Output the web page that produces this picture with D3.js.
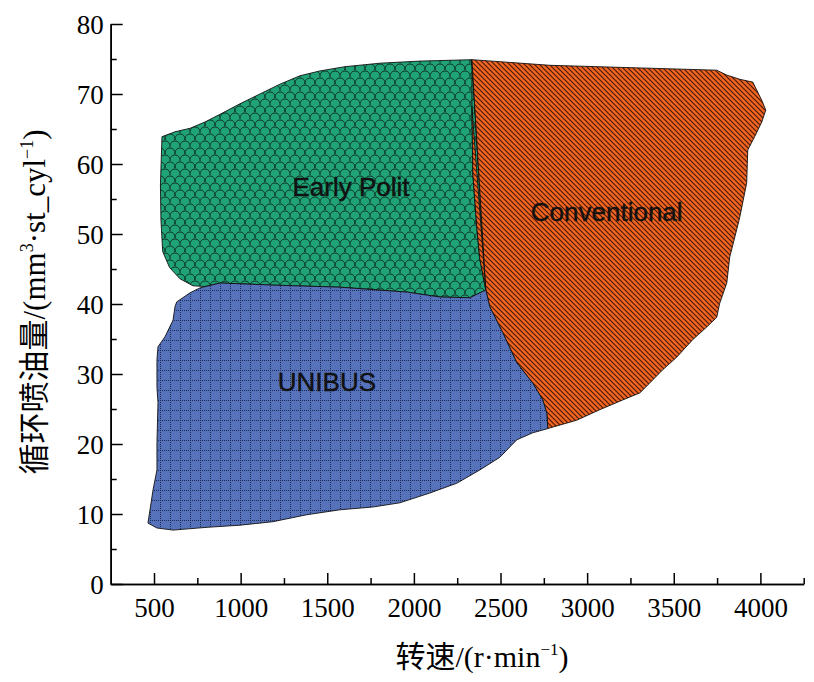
<!DOCTYPE html>
<html><head><meta charset="utf-8">
<script src="https://cdn.jsdelivr.net/npm/d3@7/dist/d3.min.js"></script>
<style>body{margin:0;background:#fff}svg{display:block}</style>
</head><body>
<svg id="c" width="814" height="682"></svg>
<script>
// ---- data (x: r/min, y: mm3/st_cyl) ----
const xTicks = [500, 1000, 1500, 2000, 2500, 3000, 3500, 4000];
const xMinor = [750, 1250, 1750, 2250, 2750, 3250, 3750, 4250];
const yTicks = [0, 10, 20, 30, 40, 50, 60, 70, 80];
const yMinor = [5, 15, 25, 35, 45, 55, 65, 75];

// shared boundaries
const greenOrangeEdge = [[2335,74.9],[2335,68.1],[2340,58.7],[2363,51.0],[2380,46.5],[2415,42.0]];
const blueOrangeEdge  = [[2415,42.0],[2438,39.6],[2513,35.9],[2594,31.6],[2686,28.7],[2744,26.3],[2767,24.4],[2773,22.2]];
const greenBlueEdge   = [[2415,42.0],[2323,40.9],[2150,41.0],[1960,41.7],[1573,42.4],[1186,42.7],[881,43.0]];

// outer edges
const greenOuter = [[881,43.0],[794,42.5],[725,42.6],[650,43.6],[590,45.2],[550,47.5],[540,52],[537,57],[546,63.9],[621,64.6],[708,65.1],[794,66.0],[881,67.1],[996,68.6],[1111,70.0],[1227,71.4],[1342,72.6],[1458,73.3],[1602,73.9],[1804,74.4],[2035,74.7],[2335,74.9]];
const orangeOuter = [[2335,74.9],[2785,74.1],[3748,73.4],[3806,72.7],[3881,72.1],[3956,71.7],[4008,69.1],[4031,67.7],[4008,66.0],[3967,63.9],[3927,62.0],[3921,57.3],[3881,52.4],[3863,50.6],[3823,46.7],[3806,43.0],[3765,40.1],[3748,38.1],[3690,36.7],[3609,34.9],[3517,32.4],[3436,30.6],[3361,28.7],[3304,27.3],[3206,26.3],[3073,24.9],[2940,23.4],[2785,22.3],[2773,22.2]];
const blueOuter = [[2773,22.2],[2686,21.6],[2594,20.6],[2496,18.1],[2381,16.3],[2248,14.4],[2092,13.0],[1919,11.6],[1763,11.0],[1573,10.6],[1383,9.9],[1186,8.9],[996,8.4],[806,8.1],[610,7.7],[517,8.0],[465,8.7],[477,10.6],[494,13.4],[517,16.3],[517,20.1],[523,25.9],[517,28.1],[517,32.0],[523,33.9],[563,35.3],[610,37.7],[621,39.6],[631,40.3],[708,41.6],[765,42.3],[881,43.0]];

const regions = ["Early Polit", "Conventional", "UNIBUS"];
const labelPos = [[1637, 56.7], [3113, 53.1], [1498, 28.9]];

// ---- scales ----
const svg = d3.select("#c");
const x = d3.scaleLinear().domain([250, 4250]).range([110.7, 803.7]);
const y = d3.scaleLinear().domain([0, 80]).range([584, 24]);

// ---- patterns ----
const defs = svg.append("defs");
const pg = defs.append("pattern").attr("id","pGreen").attr("patternUnits","userSpaceOnUse").attr("width",10).attr("height",14);
pg.append("rect").attr("width",10).attr("height",14).attr("fill","#1fa377");
const scale = "M0,7 C0,3 2,1 5,1 C8,1 10,3 10,7";
[[0,0],[5,7],[-5,7],[0,14],[5,-7],[-5,-7]].forEach(([dx,dy])=>{
  pg.append("path").attr("d",scale).attr("transform",`translate(${dx},${dy})`)
    .attr("fill","none").attr("stroke","#0c2e20").attr("stroke-width",1);
});
const po = defs.append("pattern").attr("id","pOrange").attr("patternUnits","userSpaceOnUse").attr("width",5).attr("height",5);
po.append("rect").attr("width",5).attr("height",5).attr("fill","#f26522");
po.append("path").attr("d","M-1,-1 L6,6 M-1,4 L1,6 M4,-1 L6,1").attr("stroke","#4a1a08").attr("stroke-width",1.2);
const pb = defs.append("pattern").attr("id","pBlue").attr("patternUnits","userSpaceOnUse").attr("width",10).attr("height",10);
pb.append("rect").attr("width",10).attr("height",10).attr("fill","#5672ba");
pb.append("path").attr("d","M0,0.5 H10 M0.5,0 V10").attr("stroke","#1c2a55").attr("stroke-width",1).attr("stroke-dasharray","1,1");

// ---- regions ----
const line = d3.line().x(d=>x(d[0])).y(d=>y(d[1]));
const greenPoly = greenOrangeEdge.slice().reverse().concat(greenBlueEdge, greenOuter);
const orangePoly = orangeOuter.concat(blueOrangeEdge.slice().reverse(), greenOrangeEdge.slice(1));
const bluePoly = blueOrangeEdge.concat(blueOuter, greenBlueEdge.slice().reverse());
const polys = [greenPoly, orangePoly, bluePoly];
const fills = ["url(#pGreen)", "url(#pOrange)", "url(#pBlue)"];
svg.append("g").selectAll("path").data(polys).join("path")
  .attr("d", d => line(d) + "Z")
  .attr("fill", (d,i) => fills[i])
  .attr("stroke", "#111")
  .attr("stroke-width", 0.9)
  .attr("stroke-linejoin", "round");

svg.append("g").selectAll("text").data(regions).join("text")
  .attr("x", (d,i) => x(labelPos[i][0]))
  .attr("y", (d,i) => y(labelPos[i][1]))
  .attr("text-anchor","middle").attr("dominant-baseline","central")
  .attr("font-family","Liberation Sans, Arial, sans-serif").attr("font-size",26)
  .attr("fill","#111").attr("stroke","#111").attr("stroke-width",0.4)
  .text(d => d);

// ---- axes ----
const fontSerif = "Liberation Serif, Times New Roman, serif";
const gx = svg.append("g").attr("transform","translate(0,584)");
gx.call(d3.axisBottom(x).tickValues(xTicks).tickSize(-11).tickPadding(14).tickSizeOuter(0).tickFormat(d3.format("d")));
gx.append("g").call(d3.axisBottom(x).tickValues(xMinor).tickSize(-6).tickSizeOuter(0).tickFormat(""));
const gy = svg.append("g").attr("transform","translate(110.7,0)");
gy.call(d3.axisLeft(y).tickValues(yTicks).tickSize(-12).tickPadding(7).tickSizeOuter(0));
gy.append("g").call(d3.axisLeft(y).tickValues(yMinor).tickSize(-6).tickSizeOuter(0).tickFormat(""));
svg.selectAll(".domain").attr("stroke","#000").attr("stroke-width",1.6);
svg.selectAll(".tick line").attr("stroke","#000").attr("stroke-width",1.5);
svg.selectAll(".tick text").attr("font-family",fontSerif).attr("font-size",27).attr("fill","#000");
gy.selectAll(".tick text").attr("dy","0.34em");

// ---- axis titles ----
const tx = svg.append("text").attr("x",482).attr("y",667).attr("text-anchor","middle")
  .attr("font-family",fontSerif).attr("font-size",30).attr("fill","#000");
tx.append("tspan").attr("font-family","Noto Sans CJK SC").text("转速");
tx.append("tspan").text("/(r·min");
tx.append("tspan").attr("font-size",17).attr("dy",-12).text("−1");
tx.append("tspan").attr("dy",12).text(")");

const ty = svg.append("text").attr("transform","translate(45,302) rotate(-90)").attr("text-anchor","middle")
  .attr("font-family",fontSerif).attr("font-size",31).attr("fill","#000");
ty.append("tspan").attr("font-family","Noto Sans CJK SC").text("循环喷油量");
ty.append("tspan").text("/(mm");
ty.append("tspan").attr("font-size",18).attr("dy",-12).text("3");
ty.append("tspan").attr("dy",12).text("·st_cyl");
ty.append("tspan").attr("font-size",18).attr("dy",-12).text("−1");
ty.append("tspan").attr("dy",12).text(")");
</script>
</body></html>
